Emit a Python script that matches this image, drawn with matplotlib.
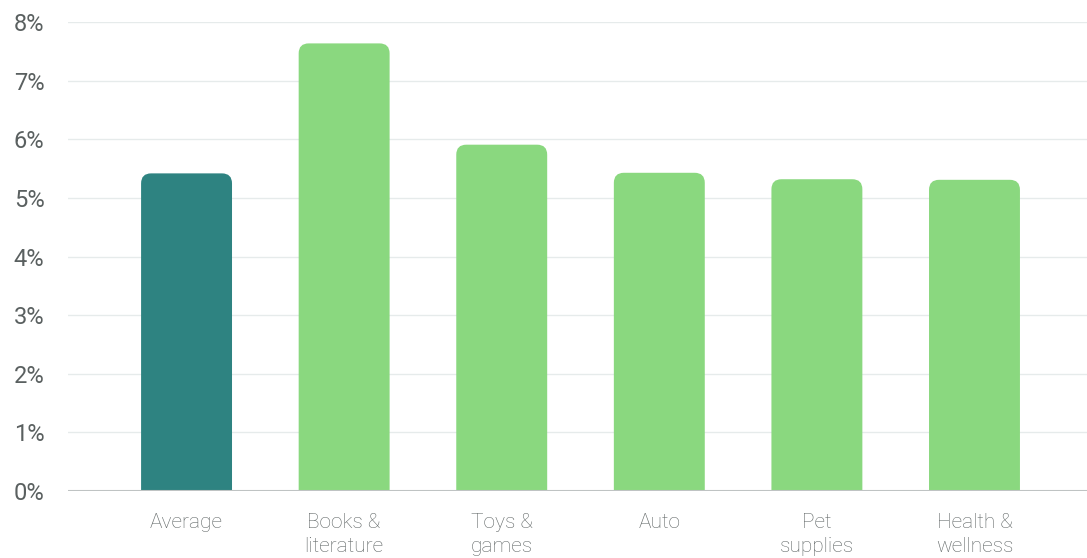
import matplotlib
matplotlib.use("Agg")
import matplotlib.pyplot as plt
from matplotlib.patches import FancyBboxPatch
from matplotlib.ticker import FuncFormatter

categories = ["Average", "Books &\nliterature", "Toys &\ngames", "Auto",
              "Pet\nsupplies", "Health &\nwellness"]
rates = [5.42, 7.64, 5.91, 5.43, 5.32, 5.31]
yticks = [0, 1, 2, 3, 4, 5, 6, 7, 8]

avg_color = "#2e8381"
cat_color = "#8ad87f"

plt.rcParams["font.family"] = ["Roboto", "DejaVu Sans"]

fig = plt.figure(figsize=(10.87, 5.58), dpi=100)
ax = fig.add_axes([0.0626, 0.1206, 0.9374, 0.8394])

xs = list(range(len(categories)))
width = 0.577
ax.set_xlim(-0.752, 5.714)
ax.set_ylim(0, 8)

# rounded tops: box extends below zero and gets clipped by the axes
bbox = ax.get_position()
px_x = bbox.width * fig.bbox.width / (5.714 + 0.752)
px_y = bbox.height * fig.bbox.height / 8
aspect = px_x / px_y
radius = 10 / px_x
for x, v in zip(xs, rates):
    color = avg_color if x == 0 else cat_color
    p = FancyBboxPatch((x - width / 2, -1), width, v + 1,
                       boxstyle=f"round,pad=0,rounding_size={radius}",
                       mutation_aspect=aspect, facecolor=color,
                       edgecolor="none", zorder=3)
    ax.add_patch(p)

ax.set_yticks(yticks)
ax.yaxis.set_major_formatter(FuncFormatter(lambda v, _: f"{v:.0f}%"))
ax.set_xticks(xs)
ax.set_xticklabels(categories, linespacing=1.35)

ax.grid(axis="y", color="#e6ebeb", linewidth=1, zorder=0)
ax.axhline(0, color="#bfc3c3", linewidth=1.5, zorder=4)
for s in ax.spines.values():
    s.set_visible(False)
ax.tick_params(axis="y", length=0, pad=17, labelsize=17, labelcolor="#5a6060")
ax.tick_params(axis="x", length=0, pad=16, labelsize=15, labelcolor="#5f6565")
for lbl in ax.get_xticklabels():
    lbl.set_fontweight("light")

fig.savefig("out.png", dpi=100)
